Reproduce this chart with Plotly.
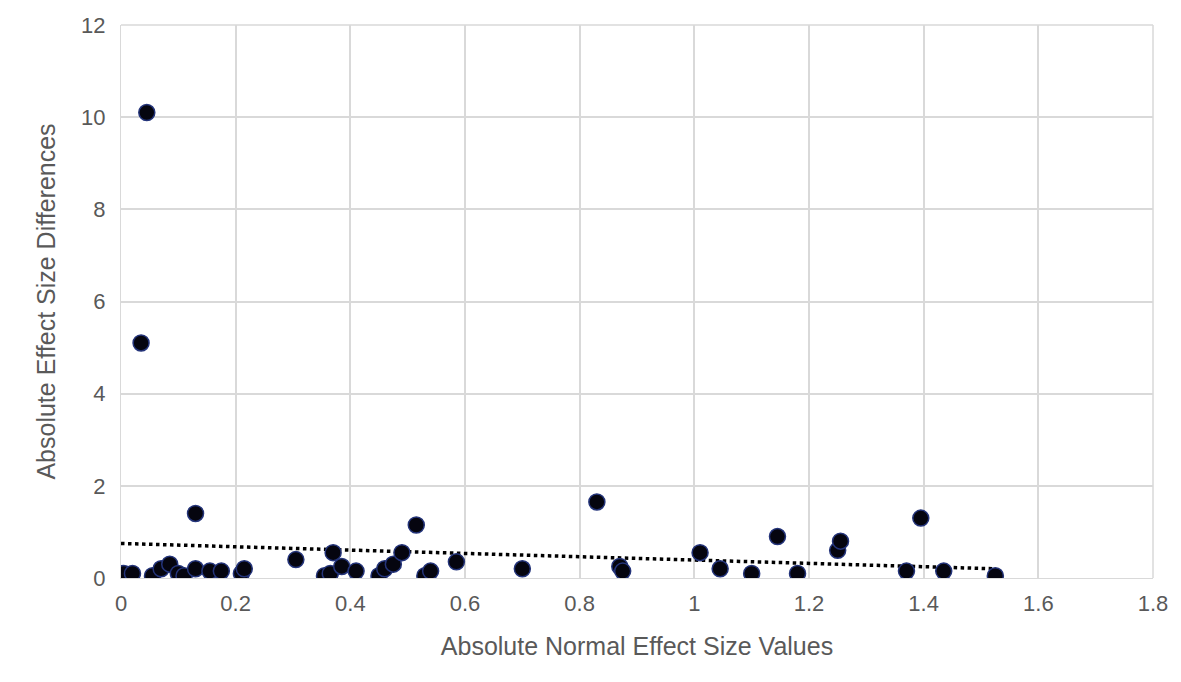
import plotly.graph_objects as go

x_vals = [0.0, 0.005, 0.02, 0.035, 0.045, 0.055, 0.07, 0.085, 0.1, 0.11, 0.13, 0.13,
          0.155, 0.175, 0.21, 0.215, 0.305, 0.355, 0.365, 0.37, 0.385, 0.41, 0.45,
          0.46, 0.475, 0.49, 0.515, 0.53, 0.54, 0.585, 0.7, 0.83, 0.87, 0.875, 1.01,
          1.045, 1.1, 1.145, 1.18, 1.25, 1.255, 1.37, 1.395, 1.435, 1.525]
y_vals = [0.05, 0.1, 0.1, 5.1, 10.1, 0.05, 0.2, 0.3, 0.1, 0.05, 1.4, 0.2,
          0.15, 0.15, 0.1, 0.2, 0.4, 0.05, 0.1, 0.55, 0.25, 0.15, 0.05,
          0.2, 0.3, 0.55, 1.15, 0.05, 0.15, 0.35, 0.2, 1.65, 0.25, 0.15, 0.55,
          0.2, 0.1, 0.9, 0.1, 0.6, 0.8, 0.15, 1.3, 0.15, 0.05]

# trendline
trend_x = [0.0, 1.525]
trend_y = [0.75, 0.2]

fig = go.Figure()
fig.add_trace(go.Scatter(x=trend_x, y=trend_y, mode="lines",
                         line=dict(color="black", width=3.5, dash="dot"),
                         hoverinfo="skip"))
fig.add_trace(go.Scatter(x=x_vals, y=y_vals, mode="markers",
                         marker=dict(color="#05050f", size=16,
                                     line=dict(color="#24347a", width=1.5))))

fig.update_layout(
    width=1181, height=682, showlegend=False,
    plot_bgcolor="white", paper_bgcolor="white",
    margin=dict(l=113, r=36, t=17, b=112, autoexpand=False),
    font=dict(family="Liberation Sans, Arial", size=22, color="#595959"),
)
fig.update_xaxes(range=[0, 1.8], dtick=0.2, showgrid=True, gridcolor="#d9d9d9",
                 gridwidth=1.5, zeroline=False, showline=True, linecolor="#d9d9d9",
                 tickformat="~g", ticks="outside", tickcolor="white", ticklen=6,
                 title=dict(text="Absolute Normal Effect Size Values",
                            font=dict(size=25, color="#595959"), standoff=22))
fig.update_yaxes(range=[0, 12], dtick=2, showgrid=True, gridcolor="#d9d9d9",
                 gridwidth=1.5, zeroline=False, showline=True, linecolor="#d9d9d9",
                 ticks="outside", tickcolor="white", ticklen=10,
                 title=dict(text="Absolute Effect Size Differences",
                            font=dict(size=25, color="#595959"), standoff=18))
fig.add_shape(type="line", xref="paper", yref="paper", x0=1, x1=1, y0=0, y1=1,
              line=dict(color="#d9d9d9", width=1.5))
fig.add_shape(type="line", xref="paper", yref="paper", x0=0, x1=1, y0=1, y1=1,
              line=dict(color="#d9d9d9", width=1.5))

fig.write_html("out.html")
